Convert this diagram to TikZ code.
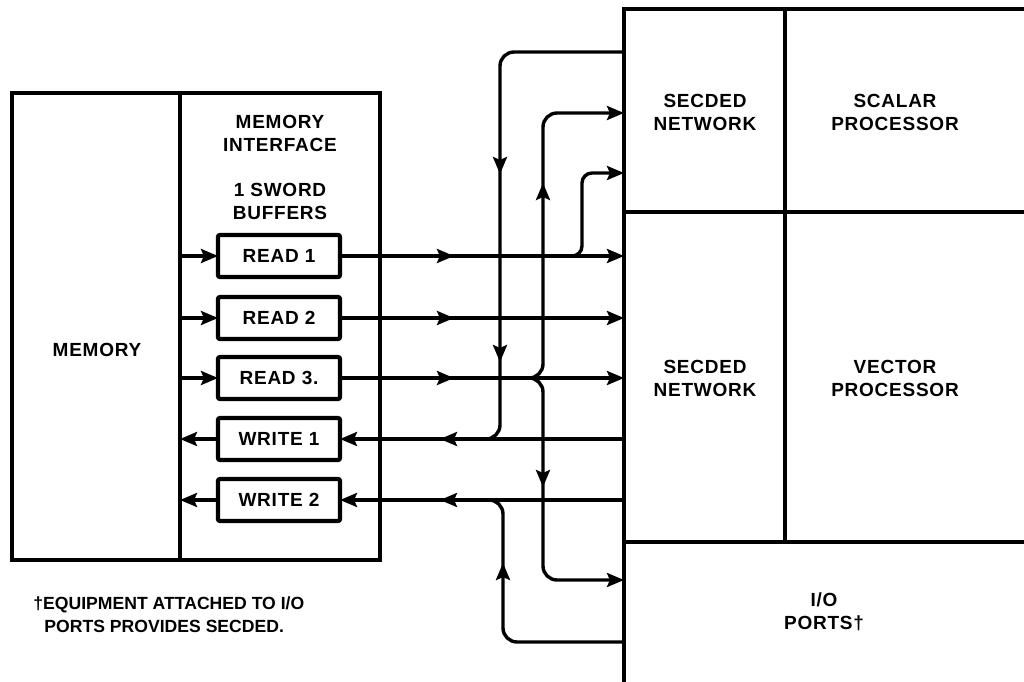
\documentclass[tikz,border=0pt]{standalone}
\usepackage{fontspec}
\setmainfont{Liberation Sans}[LetterSpace=4]
\newfontfamily\notefont{Liberation Sans}
\usetikzlibrary{arrows.meta,decorations.markings,calc}
\begin{document}
\begin{tikzpicture}[x=0.5pt,y=-0.5pt,
  font=\bfseries\fontsize{9.5}{11.5}\selectfont,
  ln/.style={line width=1.7pt},
  frame/.style={draw,line width=2pt,inner sep=0pt,outer sep=0pt},
  buf/.style={draw,line width=2.1pt,minimum width=61pt,minimum height=21pt,inner sep=0pt,outer sep=0pt,rounded corners=1pt},
  tip/.style={-{Stealth[length=8.5pt,width=7pt,inset=1.5pt]}},
  marr/.style={postaction={decorate},decoration={markings,mark=at position #1 with {\arrow{Stealth[length=8.5pt,width=7pt,inset=1.5pt]}}}},
  marrtwo/.style 2 args={postaction={decorate},decoration={markings,
     mark=at position #1 with {\arrow{Stealth[length=8.5pt,width=7pt,inset=1.5pt]}},
     mark=at position #2 with {\arrow{Stealth[length=8.5pt,width=7pt,inset=1.5pt]}}}},
  lbl/.style={align=center,inner sep=0pt},
]
\useasboundingbox (0,0) rectangle (1024,681);
\clip (0,0) rectangle (1024,681);

% left blocks
\node[frame,minimum width=84pt,minimum height=233.5pt] (mem) at (96,326.5) {};
\node[frame,minimum width=100pt,minimum height=233.5pt] (iface) at (280,326.5) {};
\node[lbl] (memlbl) at (97,350) {MEMORY};
\node[lbl] (ifacelbl) at (280,133) {MEMORY\\INTERFACE};
\node[lbl] (buflbl) at (280,201) {1 SWORD\\BUFFERS};

% buffers
\node[buf] (read1) at (279,256) {READ 1};
\node[buf] (read2) at (279,318) {READ 2};
\node[buf] (read3) at (279,378) {READ 3.};
\node[buf] (write1) at (279,439) {WRITE 1};
\node[buf] (write2) at (279,500) {WRITE 2};

% right block
\node[frame,minimum width=80.5pt,minimum height=101.5pt] (secded1) at (704.5,110.5) {};
\node[frame,minimum width=157.5pt,minimum height=101.5pt] (scalar) at (942.5,110.5) {};
\node[frame,minimum width=80.5pt,minimum height=165pt] (secded2) at (704.5,377) {};
\node[frame,minimum width=157.5pt,minimum height=165pt] (vector) at (942.5,377) {};
\node[frame,minimum width=238pt,minimum height=89pt] (io) at (862,631) {};
\node[lbl] (s1lbl) at (705,112) {SECDED\\NETWORK};
\node[lbl] (sclbl) at (895,112) {SCALAR\\PROCESSOR};
\node[lbl] (s2lbl) at (705,378) {SECDED\\NETWORK};
\node[lbl] (veclbl) at (895,378) {VECTOR\\PROCESSOR};
\node[lbl] (iolbl) at (824,612) {I/O\\PORTS†};

% footnote
\node[anchor=west,align=left,inner sep=0pt,font=\notefont\bfseries\fontsize{8.8}{11.5}\selectfont] (note) at (33,615)
  {†EQUIPMENT ATTACHED TO I/O\\\hspace*{5.5pt}PORTS PROVIDES SECDED.};

% memory -> buffers, buffers -> memory
\foreach \b in {read1,read2,read3}{
  \draw[ln,tip] (\b.west -| iface.west) -- (\b.west);
  \draw[ln,tip,marr=57pt] (\b.east) -- (\b.east -| secded2.west);
}
\foreach \b in {write1,write2}{
  \draw[ln,tip] (\b.west) -- (\b.west -| iface.west);
  \draw[ln,tip,marr=92pt] (\b.east -| secded2.west) -- (\b.east);
}

% branch of READ 1 into upper SECDED
\coordinate (r1fork) at (560,256);
\coordinate (r1up) at (582,173);
\draw[ln,tip,rounded corners=5pt] (r1fork) -| (r1up) -- (r1up -| secded1.west);

% upper SECDED output down to WRITE 1
\coordinate (topl) at (500,52);
\draw[ln,rounded corners=7pt,marrtwo={120pt}{214pt}]
  (topl -| secded1.west) -- (topl) -- (topl |- write1) -- ++(-30,0);

% READ 3 branches up and down
\coordinate (r3fork) at (520,378);
\coordinate (upx) at (543,113);
\coordinate (dnx) at (543,580);
\draw[ln,tip,rounded corners=7pt,marr=106pt] (r3fork) -| (upx) -- (upx -| secded1.west);
\draw[ln,tip,rounded corners=7pt,marr=63pt] (r3fork) -| (dnx) -- (dnx -| io.west);

% I/O output up to WRITE 2
\coordinate (iox) at (503,642);
\draw[ln,rounded corners=7pt,marr=97pt]
  (iox -| io.west) -- (iox) -- (iox |- write2) -- ++(-25,0);
\end{tikzpicture}
\end{document}
